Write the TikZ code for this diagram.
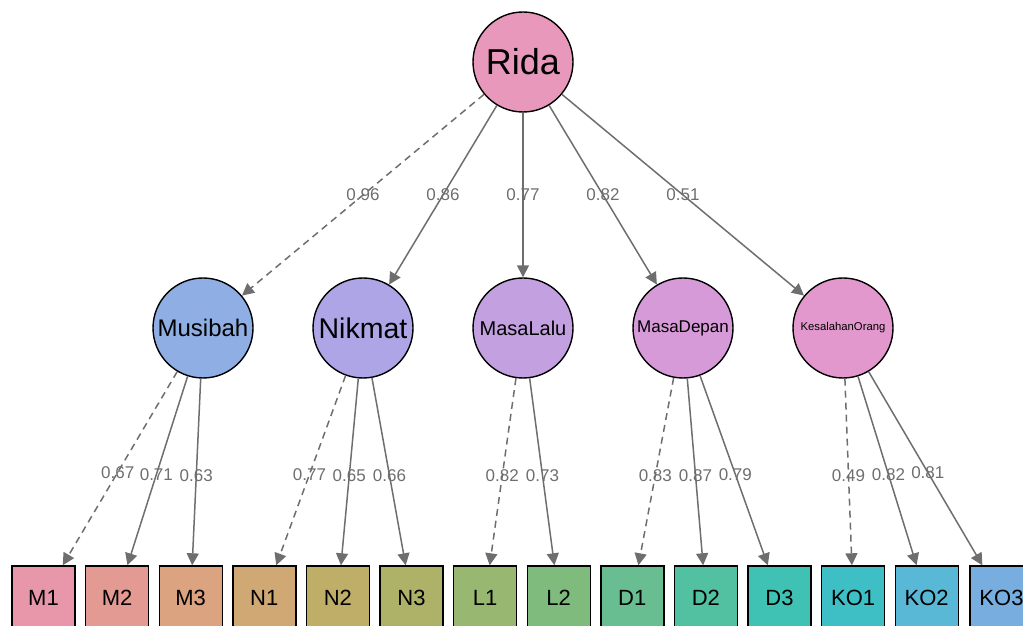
\documentclass[tikz,border=0pt]{standalone}
\usepackage{fontspec}
\setmainfont{Liberation Sans}
\usetikzlibrary{arrows.meta}

\definecolor{cRida}{HTML}{E899BB}
\definecolor{cMus}{HTML}{8FAEE3}
\definecolor{cNik}{HTML}{ADA5E6}
\definecolor{cLalu}{HTML}{C3A0E0}
\definecolor{cDepan}{HTML}{D69AD8}
\definecolor{cKO}{HTML}{E298CC}
\definecolor{cMa}{HTML}{E896AA}
\definecolor{cMb}{HTML}{E29A92}
\definecolor{cMc}{HTML}{DCA380}
\definecolor{cNa}{HTML}{CFA874}
\definecolor{cNb}{HTML}{BFAE68}
\definecolor{cNc}{HTML}{ADB268}
\definecolor{cLa}{HTML}{98B770}
\definecolor{cLb}{HTML}{80BB7E}
\definecolor{cDa}{HTML}{68BE90}
\definecolor{cDb}{HTML}{52C1A2}
\definecolor{cDc}{HTML}{3FC1B4}
\definecolor{cKOa}{HTML}{3DBFC5}
\definecolor{cKOb}{HTML}{58B8D6}
\definecolor{cKOc}{HTML}{77AEDF}
\definecolor{edgegray}{HTML}{6E6E6E}

\newcommand{\fs}[1]{\fontsize{#1}{#1}\selectfont}

\begin{document}
\begin{tikzpicture}[x=1pt,y=1pt,
  latent/.style={circle,draw=black,line width=1.4pt,minimum size=100pt,inner sep=0pt},
  manifest/.style={rectangle,draw=black,line width=1.4pt,minimum width=63pt,minimum height=64pt,inner sep=0pt,font=\fs{22}},
  load/.style={draw=edgegray,line width=1.5pt,-{Triangle[length=12pt,width=12pt]}},
  fixed/.style={load,dash pattern=on 7pt off 5pt},
  lab/.style={font=\fs{17},text=edgegray,inner sep=0pt}]

\clip (0,0) rectangle (1023,626);

% second order factor
\node[latent,fill=cRida,font=\fs{36}] (rida) at (523,564) {Rida};

% first order factors
\node[latent,fill=cMus,font=\fs{24}] (musibah) at (203,298) {Musibah};
\node[latent,fill=cNik,font=\fs{28.5}] (nikmat) at (363,298) {Nikmat};
\node[latent,fill=cLalu,font=\fs{20}] (lalu) at (523,298) {MasaLalu};
\node[latent,fill=cDepan,font=\fs{17}] (depan) at (683,298) {MasaDepan};
\node[latent,fill=cKO,font=\fs{11.3}] (ko) at (843,298) {KesalahanOrang};

% indicators
\node[manifest,fill=cMa] (m1) at (43.5,28) {M1};
\node[manifest,fill=cMb] (m2) at (117.1,28) {M2};
\node[manifest,fill=cMc] (m3) at (190.7,28) {M3};
\node[manifest,fill=cNa] (n1) at (264.3,28) {N1};
\node[manifest,fill=cNb] (n2) at (337.9,28) {N2};
\node[manifest,fill=cNc] (n3) at (411.5,28) {N3};
\node[manifest,fill=cLa] (l1) at (485.1,28) {L1};
\node[manifest,fill=cLb] (l2) at (558.7,28) {L2};
\node[manifest,fill=cDa] (d1) at (632.3,28) {D1};
\node[manifest,fill=cDb] (d2) at (705.9,28) {D2};
\node[manifest,fill=cDc] (d3) at (779.5,28) {D3};
\node[manifest,fill=cKOa] (ko1) at (853.1,28) {KO1};
\node[manifest,fill=cKOb] (ko2) at (926.7,28) {KO2};
\node[manifest,fill=cKOc] (ko3) at (1001.5,28) {KO3};

% upper loadings
\draw[fixed] (rida) -- (musibah) node[lab,midway] {0.96};
\draw[load] (rida) -- (nikmat) node[lab,midway] {0.86};
\draw[load] (rida) -- (lalu) node[lab,midway] {0.77};
\draw[load] (rida) -- (depan) node[lab,midway] {0.82};
\draw[load] (rida) -- (ko) node[lab,midway] {0.51};

% lower loadings
\draw[fixed] (musibah) -- (m1) node[lab,pos=0.52] {0.67};
\draw[load] (musibah) -- (m2) node[lab,pos=0.52] {0.71};
\draw[load] (musibah) -- (m3) node[lab,pos=0.52] {0.63};
\draw[fixed] (nikmat) -- (n1) node[lab,pos=0.52] {0.77};
\draw[load] (nikmat) -- (n2) node[lab,pos=0.52] {0.65};
\draw[load] (nikmat) -- (n3) node[lab,pos=0.52] {0.66};
\draw[fixed] (lalu) -- (l1) node[lab,pos=0.52] {0.82};
\draw[load] (lalu) -- (l2) node[lab,pos=0.52] {0.73};
\draw[fixed] (depan) -- (d1) node[lab,pos=0.52] {0.83};
\draw[load] (depan) -- (d2) node[lab,pos=0.52] {0.87};
\draw[load] (depan) -- (d3) node[lab,pos=0.52] {0.79};
\draw[fixed] (ko) -- (ko1) node[lab,pos=0.52] {0.49};
\draw[load] (ko) -- (ko2) node[lab,pos=0.52] {0.82};
\draw[load] (ko) -- (ko3) node[lab,pos=0.52] {0.81};

\end{tikzpicture}
\end{document}
